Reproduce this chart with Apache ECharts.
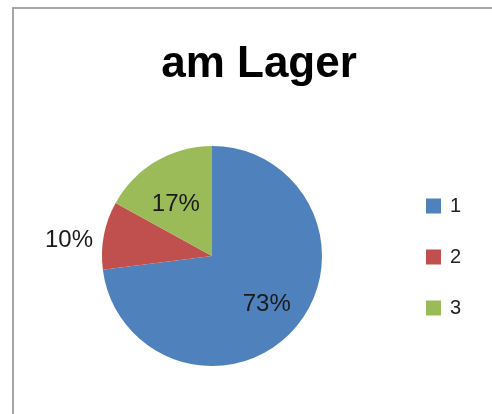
<!DOCTYPE html>
<html>
<head>
<meta charset="utf-8">
<script src="https://cdn.jsdelivr.net/npm/echarts@6/dist/echarts.min.js"></script>
<style>
html,body{margin:0;padding:0;background:#fff;}
#chart{width:492px;height:414px;}
</style>
</head>
<body>
<div id="chart"></div>
<script>
var titleText = 'am Lager';
var categories = ['1', '2', '3'];
var values = [73, 10, 17];
var colors = ['#4F81BD', '#C0504D', '#9BBB59'];

var chart = echarts.init(document.getElementById('chart'));

var shapeData = categories.map(function (c, i) {
  return { name: c, value: values[i], itemStyle: { color: colors[i] } };
});
var labelStyles = [
  {},
  { position: 'outside' },
  {}
];
var labelShift = [[0, 0], [-2, 5], [1, 11]];
var labelData = categories.map(function (c, i) {
  return { name: c, value: values[i], label: labelStyles[i] };
});

chart.setOption({
  backgroundColor: '#ffffff',
  animation: false,
  graphic: [{
    type: 'rect',
    shape: { x: 13, y: 8, width: 700, height: 700 },
    style: { fill: 'none', stroke: '#a6a6a6', lineWidth: 2 },
    silent: true
  }],
  title: {
    text: titleText,
    left: 254,
    top: 38,
    textAlign: 'center',
    textStyle: { fontFamily: 'Liberation Sans', fontWeight: 'bold', fontSize: 44, color: '#000' }
  },
  legend: {
    orient: 'vertical',
    left: 421,
    top: 191,
    data: categories,
    itemWidth: 15,
    itemHeight: 15,
    itemGap: 31,
    icon: 'rect',
    textStyle: { fontFamily: 'Liberation Sans', fontSize: 20, color: '#222', padding: [0, 0, 0, 4] }
  },
  series: [{
    type: 'pie',
    center: [212, 256],
    radius: [0, 110],
    startAngle: 90,
    clockwise: true,
    silent: true,
    label: { show: false },
    labelLine: { show: false },
    data: shapeData
  }, {
    type: 'pie',
    center: [212, 256],
    radius: [30, 110],
    startAngle: 90,
    clockwise: true,
    silent: true,
    itemStyle: { color: 'rgba(0,0,0,0)' },
    label: {
      show: true,
      position: 'inside',
      formatter: '{d}%',
      fontFamily: 'Liberation Sans',
      fontSize: 24,
      color: '#1a1a1a'
    },
    labelLine: { show: false, length: 2, length2: 2 },
    labelLayout: function (p) {
      var s = labelShift[p.dataIndex];
      return { dx: s[0], dy: s[1] };
    },
    data: labelData
  }]
});
</script>
</body>
</html>
